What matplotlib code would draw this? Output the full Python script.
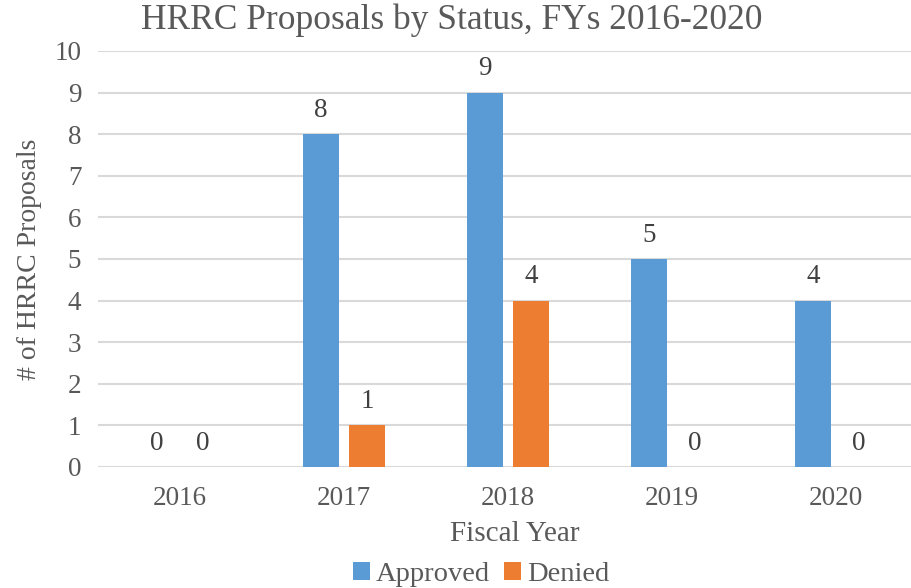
import matplotlib
matplotlib.use("Agg")
import matplotlib.pyplot as plt
import numpy as np

# data
years = ["2016", "2017", "2018", "2019", "2020"]
approved = [0, 8, 9, 5, 4]
denied = [0, 1, 4, 0, 0]

BLUE = "#5B9BD5"
ORANGE = "#ED7D31"
GREY = "#595959"
GRID = "#D9D9D9"

plt.rcParams['font.family'] = ['Liberation Serif', 'DejaVu Serif']

fig = plt.figure(figsize=(9.11, 5.88), dpi=100)
ax = fig.add_axes([98 / 911, 1 - 467 / 588, 820 / 911, 416 / 588])

x = np.arange(len(years))
w = 0.22
off = 0.14
b1 = ax.bar(x - off, approved, w, color=BLUE, label="Approved", zorder=3)
b2 = ax.bar(x + off, denied, w, color=ORANGE, label="Denied", zorder=3)

# value labels over every bar, zeros included
for bars in (b1, b2):
    for rect in bars:
        h = rect.get_height()
        ax.annotate(f"{h:g}", (rect.get_x() + rect.get_width() / 2, h),
                    xytext=(0, 8), textcoords="offset points",
                    ha="center", va="bottom", fontsize=19.5, color="#404040")

ax.set_xlim(-0.5, len(years) - 0.5)
ax.set_ylim(0, 10)
ax.set_yticks(range(0, 11))
ax.set_xticks(x)
ax.set_xticklabels(years)
ax.tick_params(axis="both", length=0, labelsize=19.5, labelcolor=GREY)
ax.tick_params(axis="x", pad=14)
ax.tick_params(axis="y", pad=12)
ax.yaxis.grid(True, color=GRID, linewidth=1.5, zorder=0)
for s in ax.spines.values():
    s.set_visible(False)

# title is centred on the figure, not the plot area
fig.text(452 / 911, 1 - 20 / 588, "HRRC Proposals by Status, FYs 2016-2020",
         fontsize=25.5, color=GREY, ha="center", va="center")
ax.set_xlabel("Fiscal Year", fontsize=21, color=GREY, labelpad=0)
ax.xaxis.set_label_coords((515 - 98) / 820, -0.13)
ax.set_ylabel("# of HRRC Proposals", fontsize=20, color=GREY, labelpad=9)

ax.legend(loc="upper center", bbox_to_anchor=((481 - 98) / 820, -0.195), ncol=2, frameon=False,
          fontsize=20.5, labelcolor=GREY, handlelength=0.6, handleheight=0.6,
          handletextpad=0.2, columnspacing=0.5, borderpad=0)

fig.savefig("out.png", dpi=100)
